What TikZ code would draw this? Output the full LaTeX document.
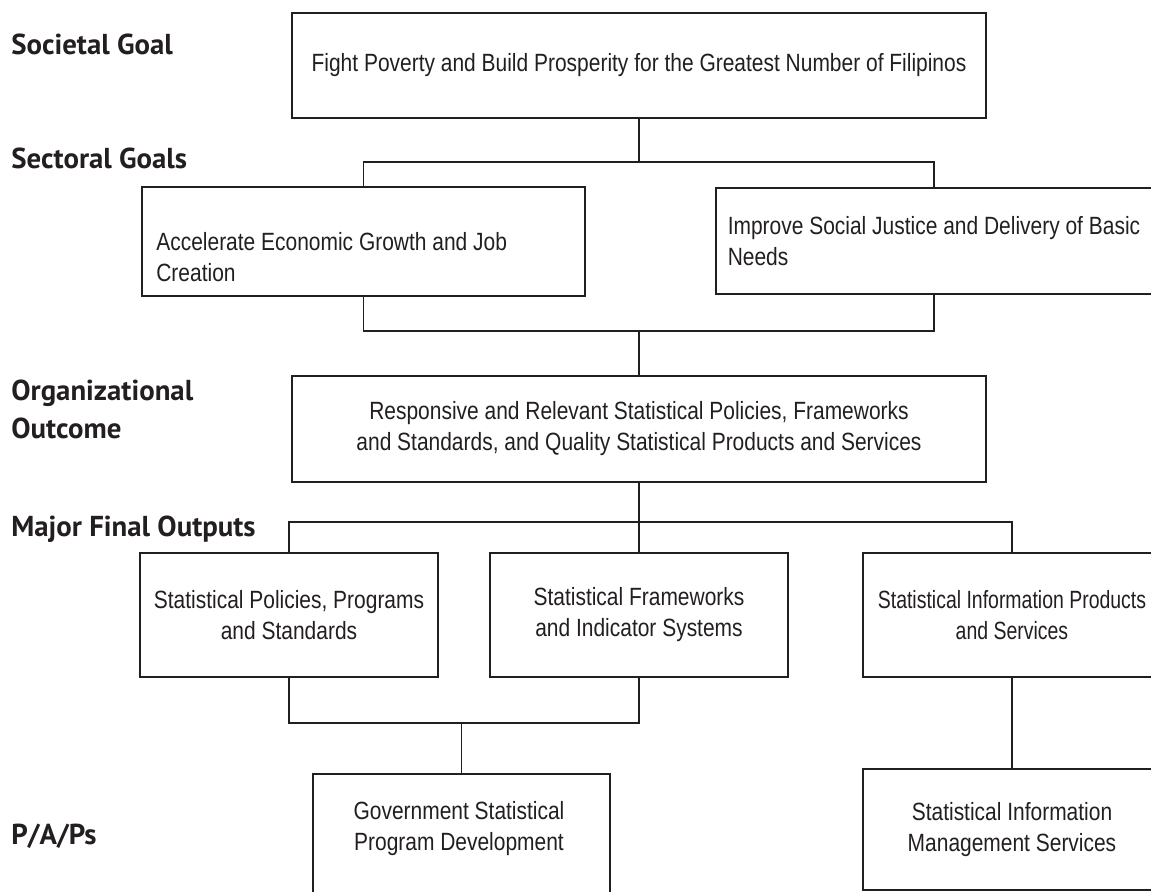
\documentclass[tikz,border=0pt]{standalone}
\usepackage{fontspec}
\setmainfont{Liberation Sans}[FakeStretch=0.84]
\newfontfamily\levelfont{PT Sans}
\newfontfamily\narrowfont{Liberation Sans}[FakeStretch=0.78]
\usepackage{tikz}
\usetikzlibrary{positioning, calc}
\definecolor{inkgray}{HTML}{231F20}

\begin{document}
\begin{tikzpicture}[
  box/.style={rectangle, draw=inkgray, line width=1.1pt, inner sep=0pt,
    font=\fontsize{14.2}{17.6}\selectfont, text=inkgray, align=center},
  boxtext/.style={inner sep=0pt, font=\fontsize{14.2}{17.6}\selectfont, text=inkgray},
  level/.style={anchor=base west, inner sep=0pt, align=left,
    font=\levelfont\bfseries\fontsize{16.4}{21.6}\selectfont, text=inkgray},
  link/.style={draw=inkgray, line width=1.1pt}
]
  \useasboundingbox (0,0) rectangle (23.02,-17.84);
  \clip (0,0) rectangle (23.02,-17.84);

  % level labels on the left
  \node[level] (lsoc) at (0.22,-1.08) {Societal Goal};
  \node[level] (lsec) at (0.22,-3.36) {Sectoral Goals};
  \node[level] (lorg) at (0.22,-8.76) {Organizational\\Outcome};
  \node[level] (lmfo) at (0.22,-10.72) {Major Final Outputs};
  \node[level] (lpap) at (0.22,-16.88) {P/A/Ps};

  % goals
  \node[box, minimum width=13.88cm, minimum height=2.1cm] (goal) at (12.78,-1.31)
    {Fight Poverty and Build Prosperity for the Greatest Number of Filipinos};
  \node[box, minimum width=8.86cm, minimum height=2.18cm] (sgecon) at (7.27,-4.83) {};
  \node[boxtext, anchor=west, align=left] (sgecontext) at (3.12,-5.15)
    {Accelerate Economic Growth and Job\\Creation};
  \node[box, align=left, minimum width=8.72cm, minimum height=2.12cm] (sgsocial) at (18.68,-4.82)
    {Improve Social Justice and Delivery of Basic\\Needs};

  % outcome
  \node[box, minimum width=13.88cm, minimum height=2.12cm] (outcome) at (12.78,-8.58)
    {Responsive and Relevant Statistical Policies, Frameworks\\
     and Standards, and Quality Statistical Products and Services};

  % major final outputs
  \node[box, minimum width=5.96cm, minimum height=2.48cm] (mfo1) at (5.78,-12.3)
    {Statistical Policies, Programs\\and Standards};
  \node[box, minimum width=5.96cm, minimum height=2.48cm] (mfo2) at (12.78,-12.3)
    {Statistical Frameworks\\and Indicator Systems};
  \node[box, minimum width=5.96cm, minimum height=2.48cm,
    font=\narrowfont\fontsize{14.2}{17.6}\selectfont] (mfo3) at (20.24,-12.3)
    {Statistical Information Products\\and Services};

  % P/A/Ps
  \node[box, minimum width=5.94cm, minimum height=2.72cm] (gspd) at (9.23,-16.84) {};
  \node[boxtext, align=center] (gspdtext) at (9.18,-16.57)
    {Government Statistical\\Program Development};
  \node[box, minimum width=5.96cm, minimum height=2.42cm] (sims) at (20.24,-16.59)
    {Statistical Information\\Management Services};

  % connectors
  \coordinate (sgbar) at ([yshift=-0.86cm]goal.south);
  \draw[link] (goal.south) -- (sgbar);
  \draw[link] (sgecon.north) |- (sgbar) -| (sgsocial.north);

  \coordinate (oobar) at ([yshift=0.88cm]outcome.north);
  \draw[link] (sgecon.south) |- (oobar) -| (sgsocial.south);
  \draw[link] (oobar) -- (outcome.north);

  \coordinate (mfobar) at ([yshift=-0.78cm]outcome.south);
  \draw[link] (outcome.south) -- (mfo2.north);
  \draw[link] (mfo1.north) |- (mfobar) -| (mfo3.north);

  \coordinate (gsbar) at ([yshift=1cm]gspd.north);
  \draw[link] (mfo1.south) |- (gsbar) -| (mfo2.south);
  \draw[link] (gsbar) -- (gspd.north);
  \draw[link] (mfo3.south) -- (sims.north);
\end{tikzpicture}
\end{document}
